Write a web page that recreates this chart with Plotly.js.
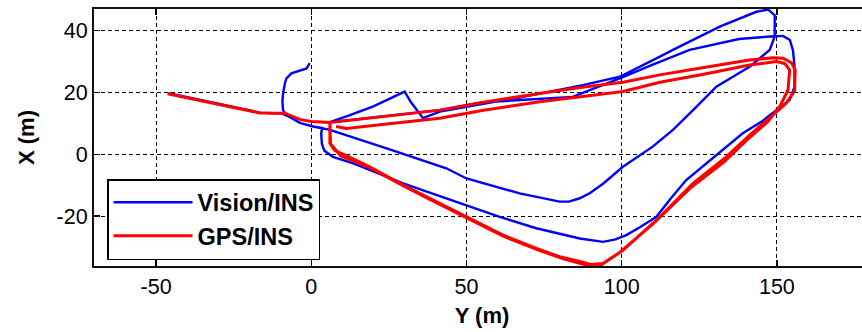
<!DOCTYPE html>
<html><head><meta charset="utf-8">
<script src="https://cdn.plot.ly/plotly-3.0.1.min.js"></script>
<style>html,body{margin:0;padding:0;overflow:hidden;background:#fff}#chart{width:870px;height:332px}</style>
</head><body><div id="chart"></div><script>
// Horizontal axis is "Y (m)", vertical axis is "X (m)"
var visionY = [-46,-30,-16.6,-9.5,-6,-3.7,0.6,3.5,3.2,3.4,4.2,7,13.5,20,29.6,40,50,60.7,72.5,80,86.5,94,98,101.5,106,111.2,116,120.8,129.4,139,145,149.8,154.1,155.7,155.7,155.2,154.2,152,147.7,137.8,121.9,110,99.4,84.2,70,55,41.4,25,12,6,12,20,30.1,32,36,41.4,50,68.2,87.5,99.4,112.3,116.5,131.6,143.4,147.2,149.3,149.3,147.7,141.2,130.5,123,116.5,110,100.4,94,89.7,86.5,83,80,67.1,50,43.5,25,6,0.6,-3.7,-8,-9.1,-9.3,-9.1,-8.5,-8,-6.4,-3.5,-1.5,-0.5];
var visionX = [19.8,16.5,13.5,13.2,11.6,10.2,9.0,8.5,6.8,3.5,1.2,-0.8,-2.9,-5.5,-9.4,-13,-16.4,-20.2,-23.9,-25.6,-27.2,-28.3,-27.5,-26.1,-23.5,-20.2,-14,-8.3,-1.3,6.8,10.5,14.3,17.6,21.9,28.3,33.5,37,38.3,38.1,37.3,33.8,29,24.6,18.6,17.8,16.8,14.3,12.4,10.9,10.4,12.5,15.5,20.3,17,11.7,13.8,15.4,18.6,22.4,25.1,31.6,33.8,41.3,46.1,46.8,45,38.1,33.8,28.3,21.9,14.3,7.9,2.5,-4,-9.5,-12.6,-14.2,-15.3,-15.3,-12.6,-7.8,-4.5,1.7,7.9,9.0,10.2,12.7,14.3,17,19.7,23,24.6,26.2,27,27.8,29.5];

var gpsY = [-46.3,-35,-25,-16.6,-8.5,-3.7,0,6,6,7.6,11.3,18.8,29.6,40.3,50,61.8,72.5,80,86.5,90,94,100.4,111.2,123,133.7,141.5,148.5,153,155.7,155.9,154.7,152,148.7,141.2,126,112.3,100.4,86,73.6,55,41.4,25,12,6,6.2,9.5,19,30,40.6,50.3,62,73,81,88.6,93.5,99,110,122,133,140.2,147,150.9,153.6,154.1,152.5,149.8,141.2,126,112.3,100.4,86,73.6,55,41.4,25,11.3,8];
var gpsX = [19.6,17.2,15.2,13.4,13.3,11.3,10.6,10.3,3.6,1.2,-0.4,-4,-9.9,-15.3,-20.2,-26.1,-30.4,-33.1,-34.6,-35.6,-35.3,-31,-21.3,-9.4,-0.8,6.5,12.5,16.5,20.5,27.3,29.6,31.1,31.2,30.5,28,25.7,23.3,21.5,19.7,16.8,14.3,12.4,10.9,10.3,3.4,-0.5,-4.4,-10.4,-15.8,-20.7,-26.5,-30.9,-33.7,-35.8,-35.7,-32,-22.6,-11,-2.4,4.5,10.5,15.4,20.8,27.3,29.4,30,28.9,25.8,23.3,20.3,18.4,17,14.2,11.7,9.9,8.4,9];

var seriesNames = ['Vision/INS', 'GPS/INS'];
var xTicks = [-50, 0, 50, 100, 150];
var yTicks = [-20, 0, 20, 40];

var FONT = 'Liberation Sans, Arial, Helvetica, sans-serif';

var traces = [
  {x: visionY, y: visionX, name: seriesNames[0], type: 'scatter', mode: 'lines',
   line: {color: '#0000FF', width: 2.4}},
  {x: gpsY, y: gpsX, name: seriesNames[1], type: 'scatter', mode: 'lines',
   line: {color: '#FF0000', width: 3}}
];

var axisCommon = {
  showline: true, linecolor: '#111', linewidth: 2, mirror: 'ticks',
  ticks: 'inside', ticklen: 6, tickwidth: 1.5, tickcolor: '#000',
  showgrid: true, gridcolor: '#000', gridwidth: 1, griddash: '4px,3px',
  zeroline: false, tickfont: {family: FONT, size: 21.5, color: '#000'}
};

var layout = {
  width: 870, height: 332,
  margin: {l: 94, r: 0, t: 9, b: 66},
  paper_bgcolor: '#fff', plot_bgcolor: '#fff',
  showlegend: true,
  xaxis: Object.assign({}, axisCommon, {
    range: [-70, 180], tickvals: xTicks, ticktext: xTicks.map(String),
    title: {text: 'Y (m)', font: {family: FONT, size: 22, color: '#000', weight: 'bold'}, standoff: 10}
  }),
  yaxis: Object.assign({}, axisCommon, {
    range: [-36.1, 47], tickvals: yTicks, ticktext: yTicks.map(String),
    title: {text: 'X (m)', font: {family: FONT, size: 22, color: '#000', weight: 'bold'}, standoff: 16}
  }),
  legend: {
    x: 0.0168, y: 0.3385, xanchor: 'left', yanchor: 'top',
    bgcolor: '#fff', bordercolor: '#000', borderwidth: 1.5,
    font: {family: FONT, size: 23.5, color: '#000', weight: 'bold'},
    itemwidth: 79
  }
};

Plotly.newPlot('chart', traces, layout, {staticPlot: true});
</script></body></html>
